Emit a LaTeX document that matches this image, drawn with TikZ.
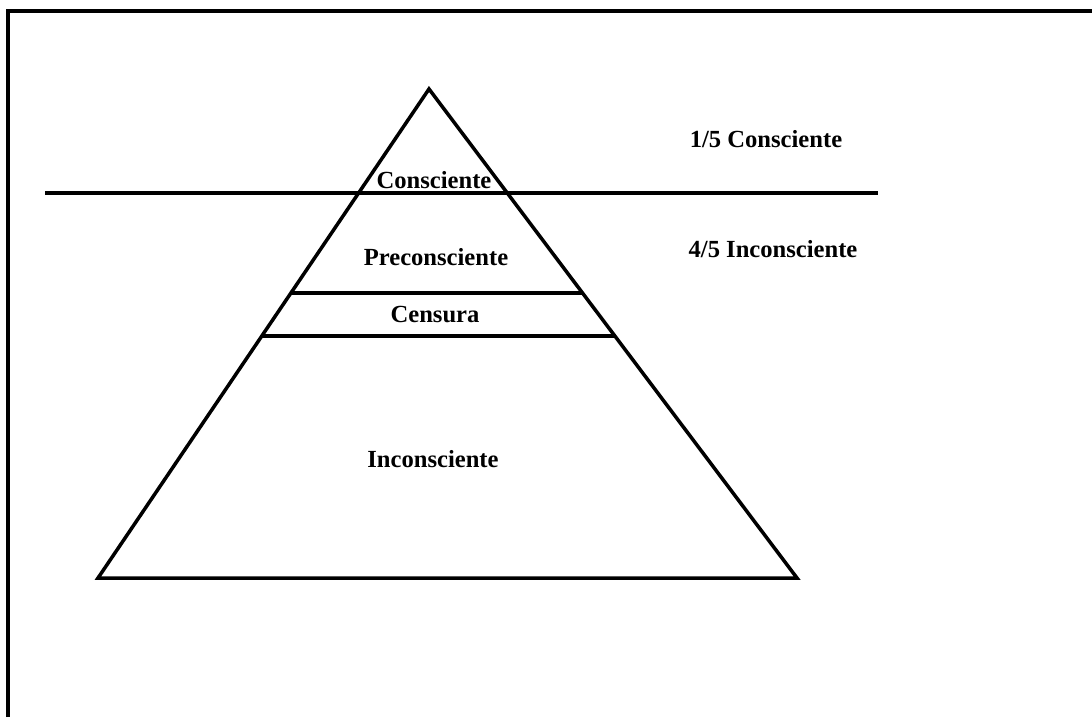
\documentclass[tikz,border=0pt]{standalone}
\usepackage{fontspec}
\setmainfont{Liberation Serif}
\usetikzlibrary{calc}

\begin{document}
\begin{tikzpicture}[x=0.02cm,y=-0.02cm, line width=2pt,
  every node/.style={font=\fontsize{14}{16}\selectfont\bfseries, inner sep=0pt},
  layer/.style={anchor=base},
  ratio/.style={anchor=base}]
	\useasboundingbox (0,0) rectangle (1092,717);
	% frame
	\draw (8,717) -- (8,11) -- (1092,11);
	% pyramid
	\coordinate (apex) at (429,89);
	\coordinate (bl) at (98,578);
	\coordinate (br) at (797,578);
	\draw (apex) -- (bl) -- (br) -- cycle;
	% surface line
	\coordinate (surfL) at (45,193);
	\coordinate (surfR) at (878,193);
	\draw (surfL) -- (surfR);
	% censura band
	\draw ($(apex)!0.417!(bl)$) -- ($(apex)!0.417!(br)$);
	\draw ($(apex)!0.505!(bl)$) -- ($(apex)!0.505!(br)$);
	% layers
	\node[layer] (consc) at (434,188) {Consciente};
	\node[layer] (precons) at (436,265) {Preconsciente};
	\node[layer] (censura) at (435,322) {Censura};
	\node[layer] (incons) at (433,467) {Inconsciente};
	% proportions
	\node[ratio] (unquinto) at (766,147) {1/5 Consciente};
	\node[ratio] (cuatroquintos) at (773,257) {4/5 Inconsciente};
\end{tikzpicture}
\end{document}
